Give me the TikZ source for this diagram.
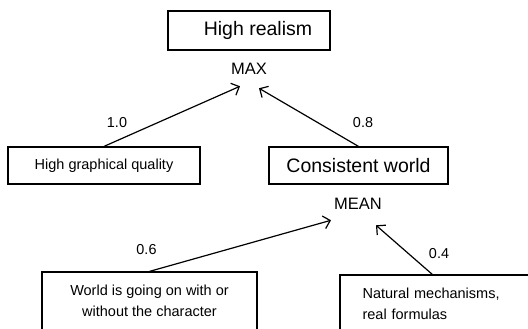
\documentclass[tikz,border=0pt]{standalone}
\usepackage{fontspec}
\setmainfont{Liberation Sans}
\usetikzlibrary{arrows.meta}
\begin{document}
\begin{tikzpicture}[x=1pt,y=1pt,line width=1.2pt,
  box/.style={draw,inner sep=0pt,font=\fontsize{14.5}{21}\selectfont},
  title/.style={font=\fontsize{19.5}{22}\selectfont},
  agg/.style={inner sep=0pt,font=\fontsize{16.5}{19}\selectfont},
  wt/.style={inner sep=0pt,font=\fontsize{14.4}{17}\selectfont},
  arr/.style={-{Straight Barb[length=6.5pt,width=13pt]}}]
\useasboundingbox(0,0)rectangle(528,329);
\node[box,title,minimum width=162,minimum height=39](real)at(249,298.5){\hspace*{18pt}High realism};
\node[agg](max)at(249,260){MAX};
\node[box,minimum width=192,minimum height=37](quality)at(104,163.5){High graphical quality};
\node[box,title,minimum width=179,minimum height=37](world)at(358.5,163.5){Consistent world};
\node[agg](mean)at(358,125){MEAN};
\node[box,align=center,minimum width=215,minimum height=58](going)at(149.5,28){World is going on with or\\without the character};
\node[box,draw=none,anchor=north west,text width=180,align=left,inner xsep=22,minimum height=57](natural)at(340,54){Natural mechanisms,\\real formulas};
\draw(natural.north east)--(natural.north west)--(natural.south west);
\draw[arr](quality.north)--([shift={(-9,-11)}]max.south);
\draw[arr](world.north)--([shift={(10,-13)}]max.south);
\draw[arr](going.north)--([shift={(-27,-10)}]mean.south);
\draw[arr]([xshift=93]natural.north west)--([shift={(18,-15)}]mean.south);
\node[wt](w1)at(117,206){1.0};
\node[wt](w2)at(363,206){0.8};
\node[wt](w3)at(146.5,79){0.6};
\node[wt](w4)at(439,75){0.4};
\end{tikzpicture}
\end{document}
